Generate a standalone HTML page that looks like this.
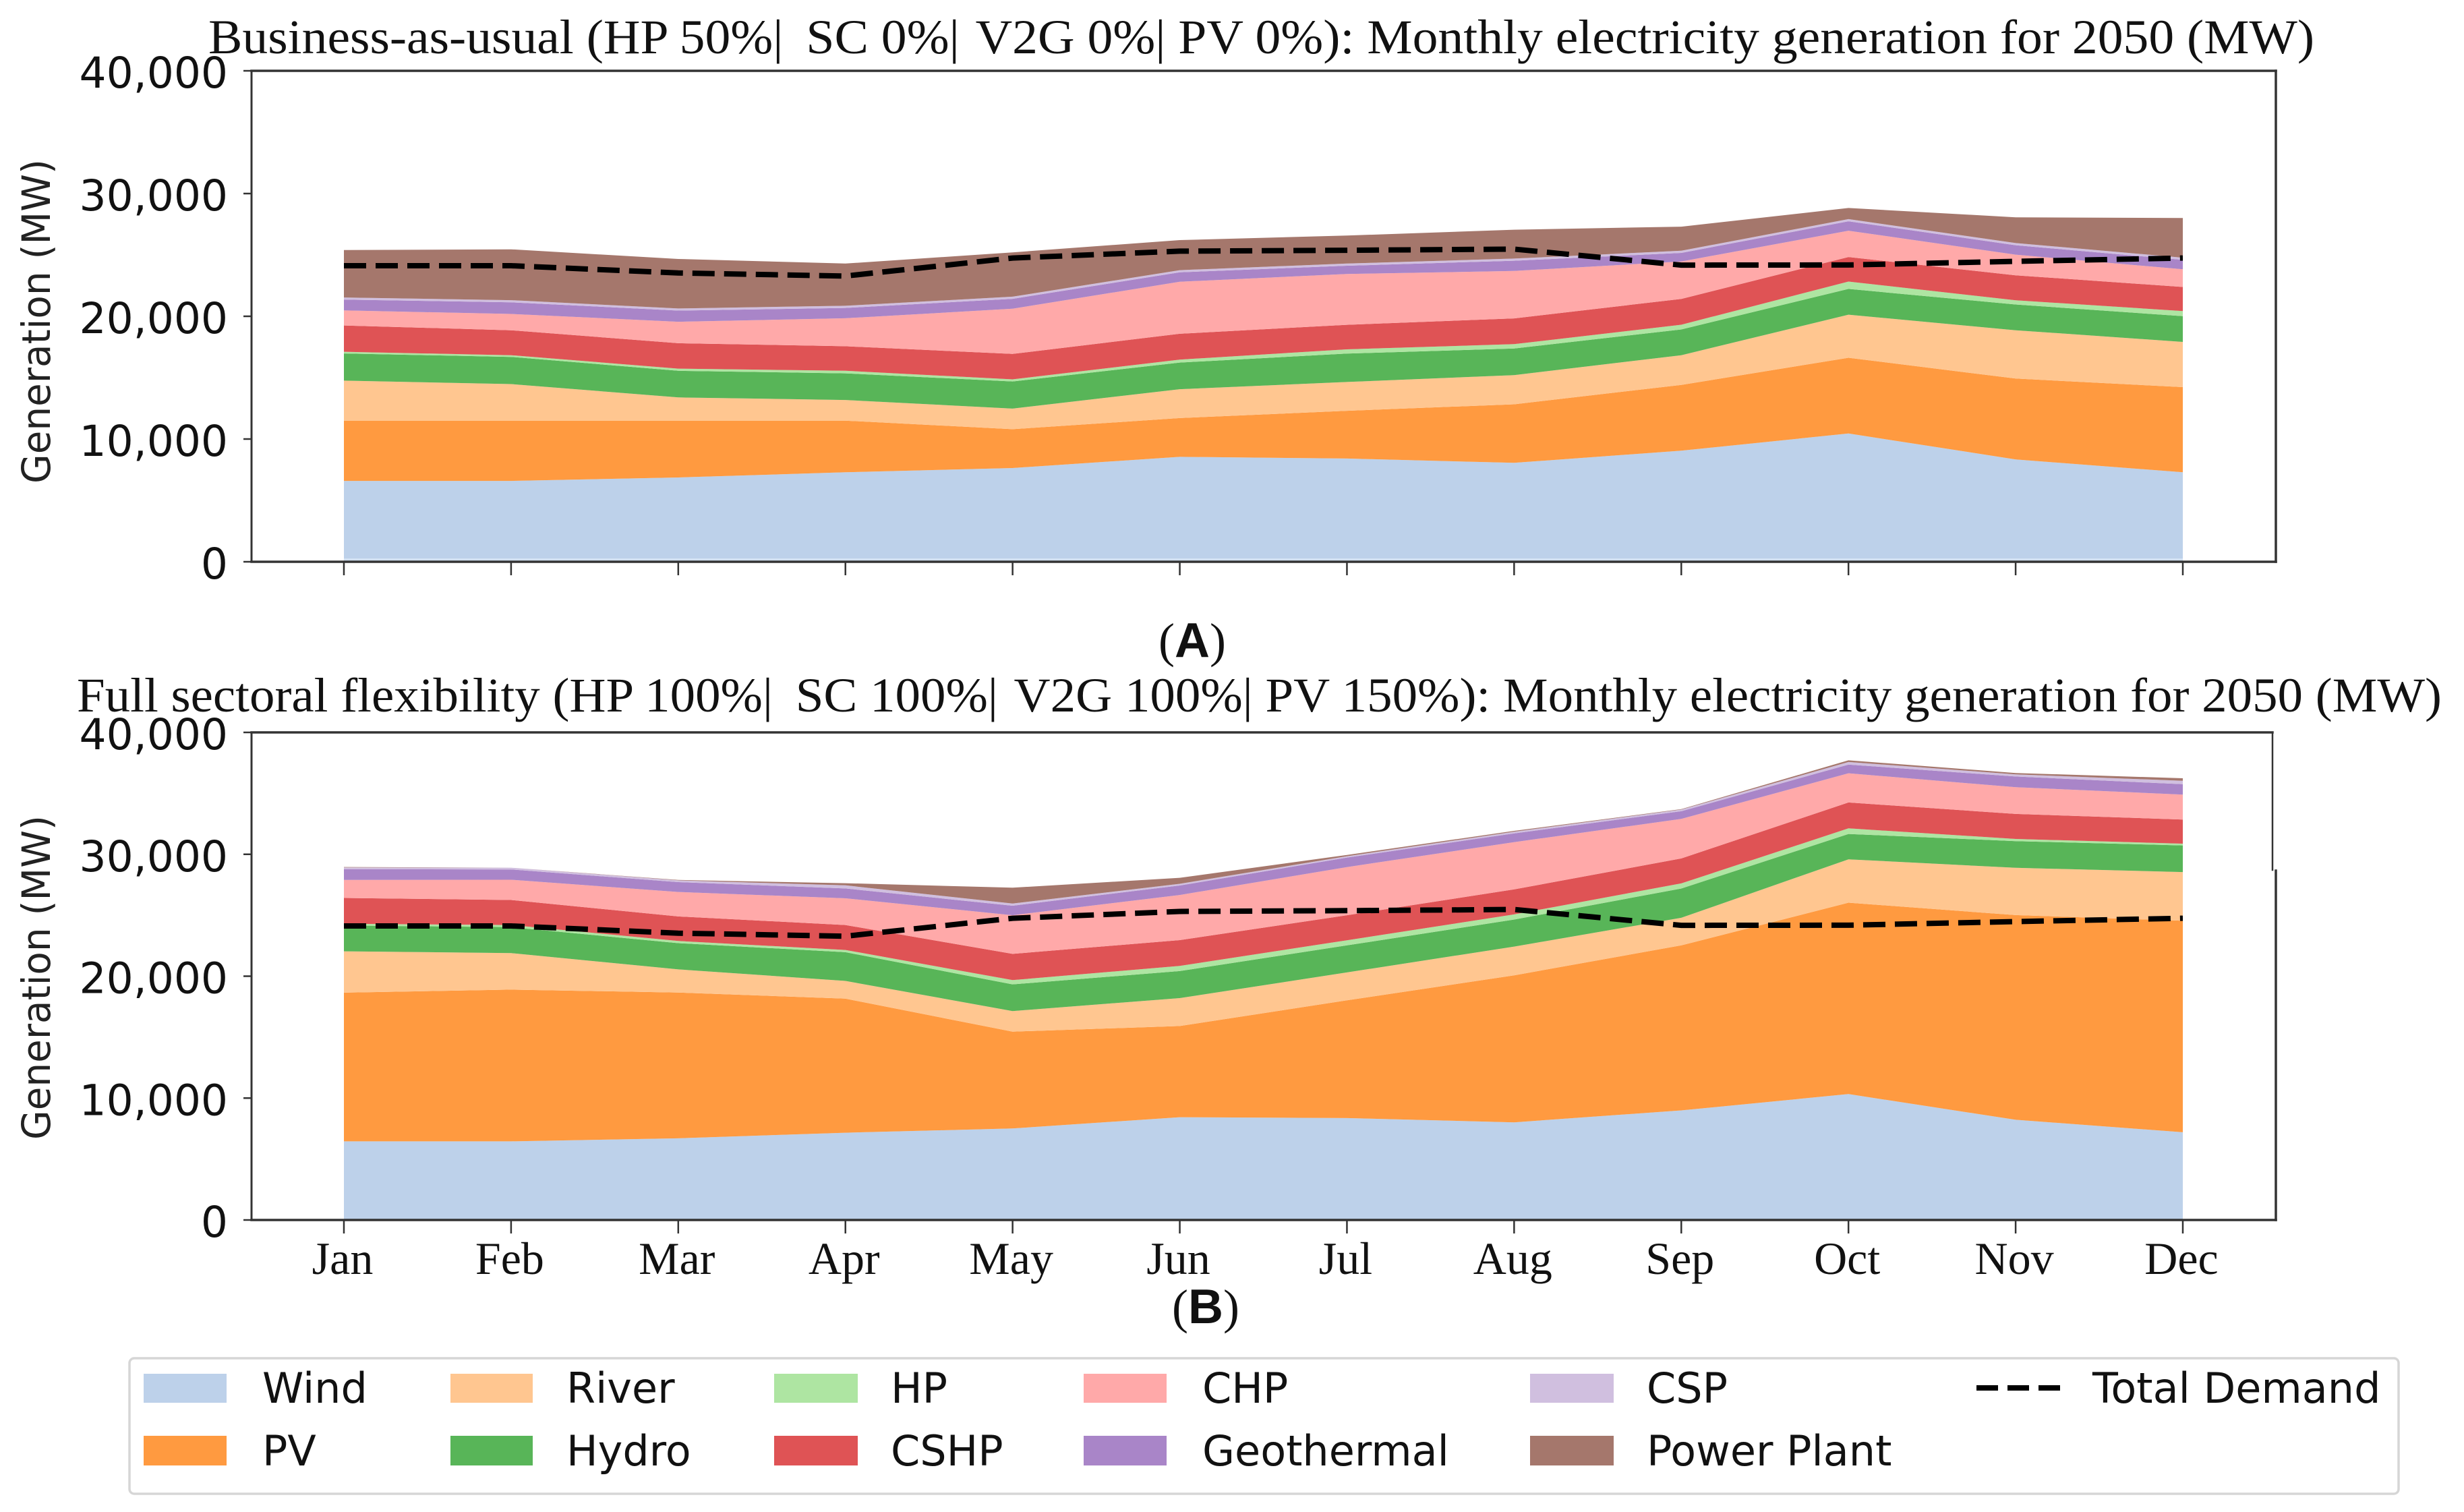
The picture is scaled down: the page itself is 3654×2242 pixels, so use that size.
<!DOCTYPE html>
<html lang="en">
<head>
<meta charset="utf-8">
<title>Monthly electricity generation for 2050</title>
<style>
html,body{margin:0;padding:0;background:#fff;}
svg{display:block;}
.title{font-family:"Liberation Serif",serif;font-size:72px;fill:#111;}
.ytick{font-family:"DejaVu Sans",sans-serif;font-size:63px;fill:#111;}
.ylab{font-family:"DejaVu Sans",sans-serif;font-size:58px;fill:#222;}
.month{font-family:"Liberation Serif",serif;font-size:68px;fill:#111;}
.panel{font-family:"Liberation Serif",serif;font-size:72px;fill:#111;}
.panel tspan{font-family:"Liberation Sans",sans-serif;font-weight:bold;}
.leg{font-family:"DejaVu Sans",sans-serif;font-size:62px;fill:#111;}
</style>
</head>
<body>
<svg id="chart" xmlns="http://www.w3.org/2000/svg" width="3654" height="2242" viewBox="0 0 3654 2242">
  <rect width="3654" height="2242" fill="#fff"/>
  <g id="panelA"></g>
  <g id="panelB"></g>

  <text class="title" x="309" y="79" textLength="3123" lengthAdjust="spacingAndGlyphs">Business-as-usual (HP 50%|&#8201; SC 0%|&#8202; V2G 0%| PV 0%): Monthly electricity generation for 2050 (MW)</text>
  <text class="title" x="114" y="1055" textLength="3507" lengthAdjust="spacingAndGlyphs">Full sectoral flexibility (HP 100%|&#8201; SC 100%|&#8202; V2G 100%| PV 150%): Monthly electricity generation for 2050 (MW)</text>

  <text class="ylab" transform="translate(74,717) rotate(-90)" textLength="481" lengthAdjust="spacingAndGlyphs">Generation (MW)</text>
  <text class="ylab" transform="translate(74,1690) rotate(-90)" textLength="481" lengthAdjust="spacingAndGlyphs">Generation (MW)</text>

  <text class="panel" x="1768" y="974" text-anchor="middle">(<tspan>A</tspan>)</text>
  <text class="panel" x="1788" y="1962" text-anchor="middle">(<tspan>B</tspan>)</text>

  <g>
    <rect x="192" y="2014" width="3365" height="201" rx="7" fill="#fff" stroke="#d6d6d6" stroke-width="3.5"/>
    <g><rect x="213" y="2037" width="123" height="43" fill="#bdd1ea"/><text class="leg" x="389" y="2080">Wind</text></g>
    <g><rect x="213" y="2129" width="123" height="44" fill="#ff9a40"/><text class="leg" x="389" y="2173">PV</text></g>
    <g><rect x="668" y="2037" width="122" height="43" fill="#ffc690"/><text class="leg" x="840" y="2080">River</text></g>
    <g><rect x="668" y="2129" width="122" height="44" fill="#58b558"/><text class="leg" x="840" y="2173">Hydro</text></g>
    <g><rect x="1148" y="2037" width="124" height="43" fill="#aee5a2"/><text class="leg" x="1321" y="2080">HP</text></g>
    <g><rect x="1148" y="2129" width="124" height="44" fill="#df5355"/><text class="leg" x="1321" y="2173">CSHP</text></g>
    <g><rect x="1607" y="2037" width="123" height="43" fill="#ffa9a9"/><text class="leg" x="1783" y="2080">CHP</text></g>
    <g><rect x="1607" y="2129" width="123" height="44" fill="#a985c8"/><text class="leg" x="1783" y="2173">Geothermal</text></g>
    <g><rect x="2269" y="2037" width="124" height="43" fill="#d0bfdf"/><text class="leg" x="2442" y="2080">CSP</text></g>
    <g><rect x="2269" y="2129" width="124" height="44" fill="#a5776c"/><text class="leg" x="2442" y="2173">Power Plant</text></g>
    <g><line x1="2931" y1="2058" x2="3055" y2="2058" stroke="#000" stroke-width="8" stroke-dasharray="32 14"/><text class="leg" x="3103" y="2080">Total Demand</text></g>
  </g>
</svg>

<script>
const months = ['Jan','Feb','Mar','Apr','May','Jun','Jul','Aug','Sep','Oct','Nov','Dec'];
const yTickValues = [0,10000,20000,30000,40000];
const yTickLabels = ['0','10,000','20,000','30,000','40,000'];
const seriesNames = ['Wind','PV','River','Hydro','HP','CSHP','CHP','Geothermal','CSP','Power Plant'];
const seriesColors = ['#bdd1ea','#ff9a40','#ffc690','#58b558','#aee5a2','#df5355','#ffa9a9','#a985c8','#d0bfdf','#a5776c'];

const demand = [24120,24120,23530,23280,24750,25310,25380,25470,24170,24180,24480,24750];

const windA = [6590,6590,6870,7290,7640,8550,8410,8060,9050,10450,8340,7290];
const pvA = [4910,4910,4630,4210,3160,3160,3890,4770,5360,6170,6590,6940];
const riverA = [3260,2980,1890,1680,1680,2350,2350,2380,2420,3510,3930,3680];
const hydroA = [2210,2210,2170,2170,2210,2170,2310,2170,2100,2100,2100,2100];
const hpA = [140,140,175,210,175,245,350,350,385,600,350,420];
const cshpA = [2140,2030,2070,2000,2070,2100,2000,2100,2100,2000,2030,1960];
const chpA = [1230,1330,1750,2280,3680,4240,4140,3860,3050,2140,1680,1440];
const geoA = [880,950,910,840,810,770,670,840,700,770,770,770];
const cspA = [175,175,175,175,175,175,175,175,175,175,175,175];
const plantA = [3860,4140,4030,3440,3610,2450,2280,2350,1960,910,2100,3230];

const windB = [6450,6450,6700,7160,7510,8430,8360,8010,8990,10330,8220,7200];
const pvB = [12200,12450,11960,11000,7940,7480,9660,12060,13540,15700,16790,17350];
const riverB = [3390,3000,1900,1450,1690,2290,2290,2360,2260,3560,3880,3990];
const hydroB = [2120,2120,2150,2360,2190,2220,2220,2220,2400,2080,2190,2190];
const hpB = [140,180,180,180,350,420,420,420,420,460,180,140];
const cshpB = [2120,2050,2010,2050,2150,2120,2050,2050,2050,2120,2050,1980];
const chpB = [1480,1660,2010,2190,3170,3700,3950,3880,3240,2400,2190,2050];
const geoB = [880,850,810,810,780,780,780,710,630,710,880,850];
const cspB = [140,140,140,250,180,140,110,140,140,210,180,280];
const plantB = [35,0,35,180,1300,490,110,70,35,140,110,210];

const stackA = [windA,pvA,riverA,hydroA,hpA,cshpA,chpA,geoA,cspA,plantA];
const stackB = [windB,pvB,riverB,hydroB,hpB,cshpB,chpB,geoB,cspB,plantB];

const NS = 'http://www.w3.org/2000/svg';
const X0 = 510, X1 = 3237, LEFT = 373, RIGHT = 3375;
function xScale(i){ return X0 + (X1 - X0) * i / (months.length - 1); }
function makeY(top, bottom){ return function(v){ return bottom - (bottom - top) * v / 40000; }; }
function el(tag, attrs, parent){
  const n = document.createElementNS(NS, tag);
  for (const k in attrs) n.setAttribute(k, attrs[k]);
  parent.appendChild(n);
  return n;
}
function slug(s){ return s.toLowerCase().replace(/\s+/g,'-'); }

function drawPanel(parent, stack, top, bottom, showMonths, key, baseStrip){
  const y = makeY(top, bottom);
  const running = months.map(function(){ return 0; });

  stack.forEach(function(values, s){
    const lower = running.slice();
    values.forEach(function(v, i){ running[i] += v; });
    let d = '';
    running.forEach(function(v, i){ d += (i ? 'L' : 'M') + xScale(i).toFixed(1) + ' ' + y(v).toFixed(1); });
    for (let i = months.length - 1; i >= 0; i--) d += 'L' + xScale(i).toFixed(1) + ' ' + y(lower[i]).toFixed(1);
    const area = el('path', {d: d + 'Z', fill: seriesColors[s]}, parent);
    
    
  });

  if (baseStrip) {
    const strip = el('rect', {x: xScale(0), y: y(0) - 5, width: xScale(11) - xScale(0), height: 5, fill: '#d3e1f2'}, parent);
    
    
  }

  let pts = '';
  demand.forEach(function(v, i){ pts += xScale(i).toFixed(1) + ',' + y(v).toFixed(1) + ' '; });
  const line = el('polyline', {points: pts.trim(), fill: 'none', stroke: '#000', 'stroke-width': 8, 'stroke-dasharray': '33 14'}, parent);
  
  

  yTickValues.forEach(function(v, i){
    const t = el('line', {x1: LEFT - 12, x2: LEFT, y1: y(v), y2: y(v), stroke: '#333', 'stroke-width': 2.5}, parent);
    
    
    const lab = el('text', {x: 338, y: y(v) + 25, 'text-anchor': 'end', 'class': 'ytick'}, parent);
    lab.textContent = yTickLabels[i];
    
    
  });

  months.forEach(function(m, i){
    const t = el('line', {x1: xScale(i), x2: xScale(i), y1: bottom, y2: bottom + 20, stroke: '#333', 'stroke-width': 2.5}, parent);
    
    
    if (showMonths) {
      const lab = el('text', {x: xScale(i) - 2, y: bottom + 80, 'text-anchor': 'middle', 'class': 'month'}, parent);
      lab.textContent = m;
      
      
    }
  });

  return y;
}

function spine(parent, x1, y1, x2, y2, w, name){
  const s = el('line', {x1: x1, y1: y1, x2: x2, y2: y2, stroke: '#333', 'stroke-width': w, 'stroke-linecap': 'square'}, parent);
  
  
}

const gA = document.getElementById('panelA');
const gB = document.getElementById('panelB');
drawPanel(gA, stackA, 105, 833, false, 'panel-a', true);
drawPanel(gB, stackB, 1086, 1809, true, 'panel-b', false);

spine(gA, LEFT, 105, LEFT, 833, 3, 'panel-a-left-spine');
spine(gA, LEFT, 833, RIGHT, 833, 3.5, 'panel-a-bottom-spine');
spine(gA, LEFT, 105, RIGHT, 105, 3.5, 'panel-a-top-spine');
spine(gA, RIGHT, 105, RIGHT, 833, 3.5, 'panel-a-right-spine');

spine(gB, LEFT, 1086, LEFT, 1809, 3, 'panel-b-left-spine');
spine(gB, LEFT, 1809, RIGHT, 1809, 3.5, 'panel-b-bottom-spine');
spine(gB, LEFT, 1086, 3370, 1086, 3.5, 'panel-b-top-spine');
spine(gB, 3370, 1086, 3370, 1290, 2.5, 'panel-b-right-spine-upper');
spine(gB, RIGHT, 1291, RIGHT, 1809, 3.5, 'panel-b-right-spine-lower');
</script>
</body>
</html>
